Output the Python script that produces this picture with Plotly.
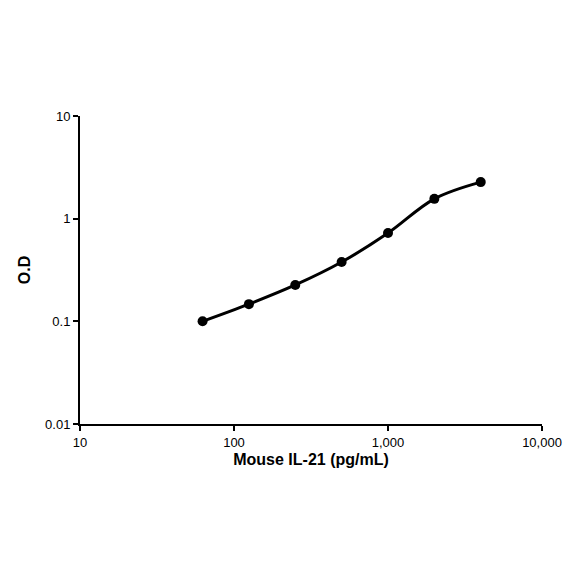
import plotly.graph_objects as go

# Standard curve data
conc = [62.5, 125, 250, 500, 1000, 2000, 4000]
od = [0.100, 0.147, 0.226, 0.378, 0.724, 1.56, 2.27]

x_ticks = [10, 100, 1000, 10000]
x_labels = ["10", "100", "1,000", "10,000"]
y_ticks = [0.01, 0.1, 1, 10]
y_labels = ["0.01", "0.1", "1", "10"]

fig = go.Figure()
fig.add_trace(go.Scatter(x=conc, y=od, mode="lines+markers",
                         line=dict(color="black", width=3, shape="spline"),
                         marker=dict(color="black", size=10)))

axis_font = dict(family="Arial, Liberation Sans", size=12, color="black")
fig.update_layout(
    width=584, height=584, plot_bgcolor="white", paper_bgcolor="white",
    margin=dict(l=72, r=50, t=108, b=168), showlegend=False,
    xaxis=dict(type="log", range=[1, 4], tickvals=x_ticks, ticktext=x_labels,
               showgrid=False, showline=True, linecolor="black", linewidth=2,
               ticks="outside", ticklen=5, tickwidth=1.5, tickcolor="black",
               tickfont=dict(axis_font, size=13),
               title=dict(text="<b>Mouse IL-21 (pg/mL)</b>", font=dict(axis_font, size=16), standoff=5)),
    yaxis=dict(type="log", range=[-2, 1], tickvals=y_ticks, ticktext=y_labels,
               showgrid=False, showline=True, linecolor="black", linewidth=2,
               ticks="outside", ticklen=5, tickwidth=1.5, tickcolor="black",
               tickfont=dict(axis_font, size=13),
               title=dict(text="<b>O.D</b>", font=dict(axis_font, size=16), standoff=10)),
)
fig.update_xaxes(tickprefix="<b>", ticksuffix="</b>")
fig.update_yaxes(tickprefix="<b>", ticksuffix="</b>")

fig.write_html("out.html")
